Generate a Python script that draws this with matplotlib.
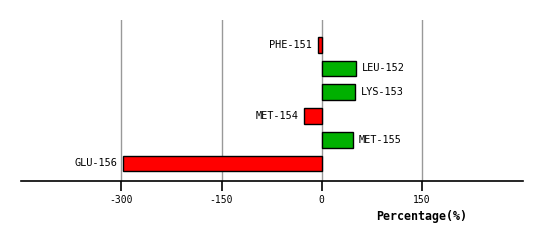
import numpy as np
import matplotlib
matplotlib.use("Agg")
import matplotlib.pyplot as plt

# residue contributions (percentage)
residues = ["PHE-151", "LEU-152", "LYS-153", "MET-154", "MET-155", "GLU-156"]
values = [-6.2, 51.2, 49.6, -26.9, 46.5, -297.0]
tick_values = [-300, -150, 0, 150]
tick_labels = ["-300", "-150", "0", "150"]

pos_color = "#00b000"
neg_color = "#ff0000"

W, H = 540, 241
fig = plt.figure(figsize=(W / 100, H / 100), dpi=100)
ax = fig.add_axes([21 / W, 60 / H, 502 / W, 161 / H])

y = np.arange(len(residues))
colors = [pos_color if v > 0 else neg_color for v in values]

for t in tick_values:
    ax.axvline(t, color="#999999", lw=1, zorder=0)

ax.barh(y, values, height=0.66, color=colors, edgecolor="black", lw=1, zorder=2)

for yi, v, name in zip(y, values, residues):
    off = 4 if v >= 0 else -4
    ax.annotate(name, (v, yi), xytext=(off, 0), textcoords="offset points",
                ha="left" if v >= 0 else "right", va="center",
                family="DejaVu Sans Mono", fontsize=7.4)

ax.set_xlim(-450, 301)
ax.set_ylim(5.74, -1.04)

for s in ["top", "left", "right"]:
    ax.spines[s].set_visible(False)
ax.spines["bottom"].set_linewidth(1.2)

ax.set_yticks([])
ax.set_xticks(tick_values)
ax.set_xticklabels(tick_labels, family="DejaVu Sans Mono", fontsize=7)
ax.tick_params(axis="x", direction="out", length=7, width=1.2, pad=3)

fig.text(422 / W, 1 - 216.5 / H, "Percentage(%)", fontsize=8.4,
         family="DejaVu Sans Mono", weight="bold", ha="center", va="center")

fig.savefig("out.png", dpi=100)
